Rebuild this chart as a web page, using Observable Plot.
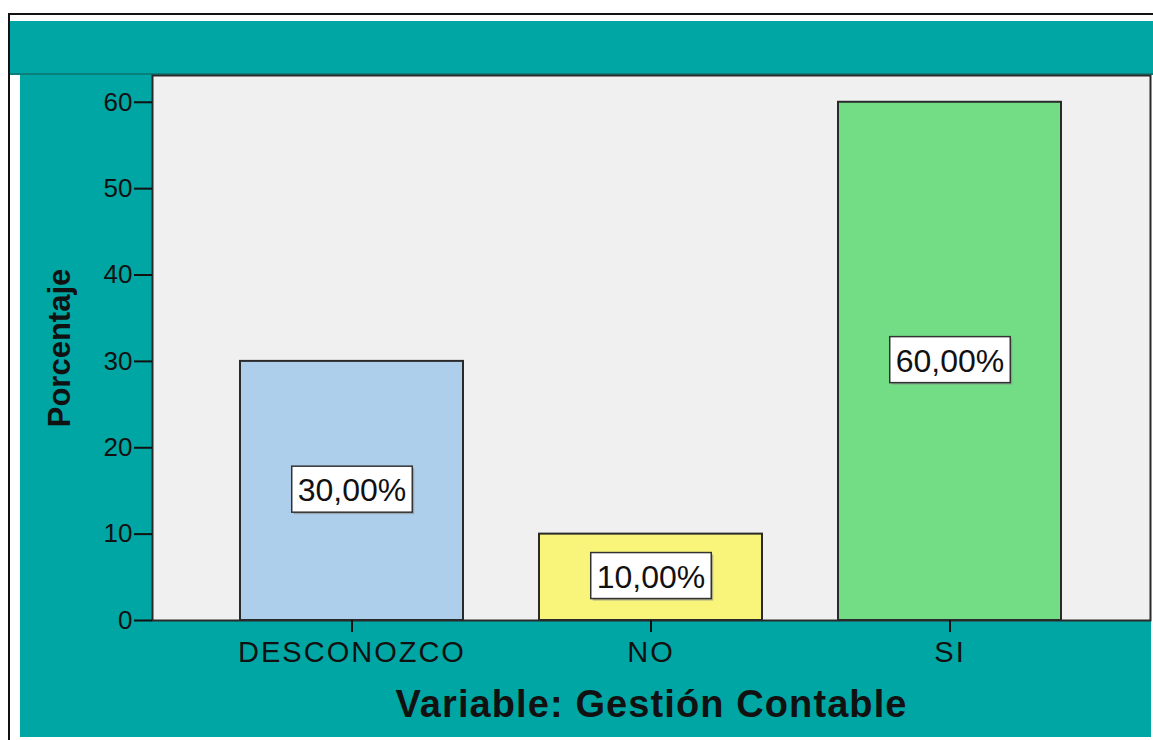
<!DOCTYPE html>
<html>
<head>
<meta charset="utf-8">
<script src="https://cdn.jsdelivr.net/npm/d3@7"></script>
<script src="https://cdn.jsdelivr.net/npm/@observablehq/plot@0.6"></script>
<style>
  html, body { margin: 0; padding: 0; background: #ffffff; }
  #wrap { position: relative; width: 1153px; height: 740px; overflow: hidden; background: #ffffff; }
  .bg { position: absolute; }
  #chart { position: absolute; left: 0; top: 0; }
  #chart g[aria-label="x-axis tick label"] text { letter-spacing: 2px; }
  #chart .xtitle text { letter-spacing: 1.1px; }
</style>
</head>
<body>
<div id="wrap">
  <div class="bg" style="left:8px;top:13px;width:1145px;height:2px;background:#111;"></div>
  <div class="bg" style="left:8px;top:13px;width:2px;height:727px;background:#111;"></div>
  <div class="bg" style="left:20px;top:21px;width:1131px;height:716px;background:#00a6a4;"></div>
  <div class="bg" style="left:10px;top:21px;width:1143px;height:53px;background:#00a6a4;"></div>
  <div class="bg" style="left:10px;top:73px;width:1143px;height:2px;background:#0a7f7c;"></div>
  <div id="chart"></div>
</div>
<script>
const categories = ["DESCONOZCO", "NO", "SI"];
const percentages = [30, 10, 60];
const valueLabels = ["30,00%", "10,00%", "60,00%"];
const barColors = ["#aecfec", "#f8f57a", "#72dd84"];
const yTicks = [0, 10, 20, 30, 40, 50, 60];
const xTitle = "Variable: Gestión Contable";
const yTitle = "Porcentaje";

const data = categories.map((c, i) => ({
  cat: c, value: percentages[i], half: percentages[i] / 2, label: valueLabels[i], color: barColors[i]
}));

const font = "'Liberation Sans', Arial, sans-serif";

const chart = Plot.plot({
  width: 1153,
  height: 740,
  marginLeft: 152,
  marginRight: 3,
  marginTop: 75,
  marginBottom: 120,
  style: { background: "transparent", fontFamily: font, color: "#111", overflow: "visible" },
  x: { domain: categories, paddingInner: 0.253, paddingOuter: 0.293, label: null },
  y: { domain: [0, 63.1], label: null },
  color: { type: "identity" },
  marks: [
    Plot.frame({ fill: "#f0f0f0", stroke: "none" }),
    Plot.barY(data, { x: "cat", y: "value", fill: "color", stroke: "#2a2a2a", strokeWidth: 2 }),
    Plot.text(data, {
      x: "cat", y: "half", text: "label", fontSize: 32, fill: "#111",
      fontFamily: font, className: "vlabel"
    }),
    Plot.frame({ stroke: "#2a2a2a", strokeWidth: 2 }),
    Plot.axisY({ ticks: yTicks, tickSize: 18, tickPadding: 2, fontSize: 26, label: null, stroke: "#111", strokeWidth: 2 }),
    Plot.axisX({ tickSize: 12, tickPadding: 9, fontSize: 29, label: null, stroke: "#111", strokeWidth: 2 }),
    Plot.text([xTitle], { frameAnchor: "bottom", lineAnchor: "middle", dy: 84, text: d => d, fontSize: 38, fontWeight: "bold", fill: "#111", className: "xtitle" }),
    Plot.text([yTitle], { frameAnchor: "left", textAnchor: "middle", lineAnchor: "middle", dx: -92, rotate: -90, text: d => d, fontSize: 31, fontWeight: "bold", fill: "#111" })
  ]
});

document.getElementById("chart").appendChild(chart);

// white boxes behind the value labels
const texts = Array.from(chart.querySelectorAll("text")).filter(t => /%$/.test(t.textContent.trim()));
texts.forEach(t => {
  const bb = t.getBBox();
  const padX = 6, padY = 8;
  const g = t.parentNode;
  const ns = "http://www.w3.org/2000/svg";
  const shadow = document.createElementNS(ns, "rect");
  shadow.setAttribute("x", bb.x - padX + 2);
  shadow.setAttribute("y", bb.y - padY + 4);
  shadow.setAttribute("width", bb.width + 2 * padX);
  shadow.setAttribute("height", bb.height + 2 * padY - 6);
  shadow.setAttribute("fill", "#8a8a8a");
  shadow.setAttribute("opacity", "0.6");
  if (t.getAttribute("transform")) shadow.setAttribute("transform", t.getAttribute("transform"));
  const rect = document.createElementNS(ns, "rect");
  rect.setAttribute("x", bb.x - padX);
  rect.setAttribute("y", bb.y - padY + 2);
  rect.setAttribute("width", bb.width + 2 * padX);
  rect.setAttribute("height", bb.height + 2 * padY - 6);
  rect.setAttribute("fill", "#ffffff");
  rect.setAttribute("stroke", "#333");
  rect.setAttribute("stroke-width", "1.5");
  if (t.getAttribute("transform")) rect.setAttribute("transform", t.getAttribute("transform"));
  g.insertBefore(shadow, t);
  g.insertBefore(rect, t);
});
</script>
</body>
</html>
